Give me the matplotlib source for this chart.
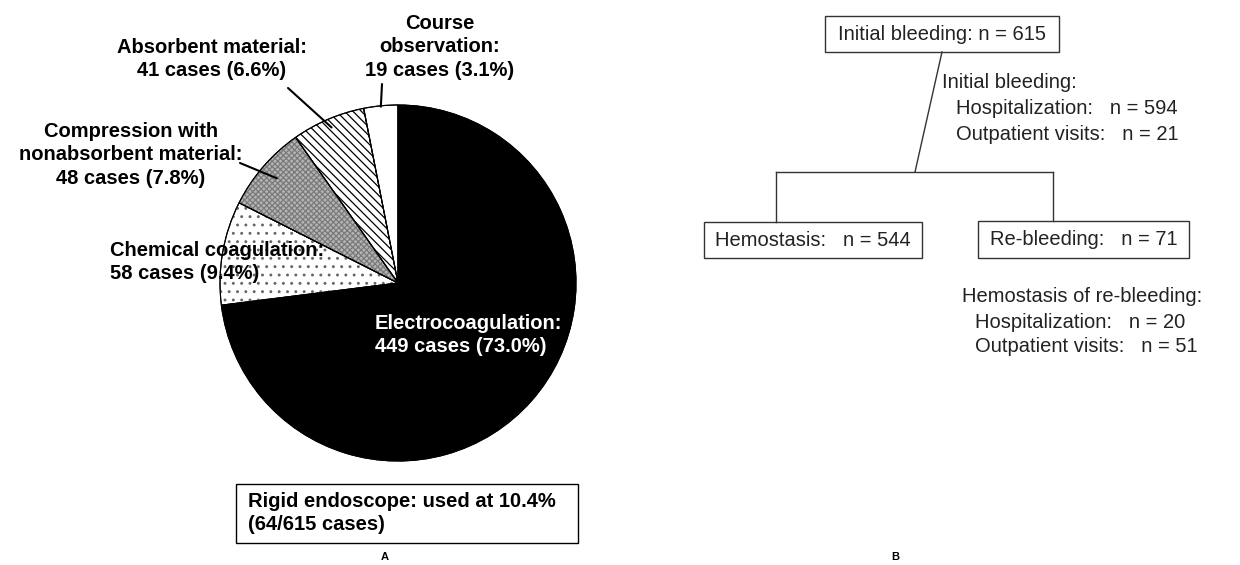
import matplotlib.pyplot as plt
import numpy as np
from matplotlib.patches import Rectangle, Wedge

plt.rcParams['font.family'] = ['Liberation Sans', 'DejaVu Sans']
plt.rcParams['hatch.linewidth'] = 0.9

# pie data (panel A)
methods = ['Electrocoagulation', 'Chemical coagulation',
           'Compression with\nnonabsorbent material', 'Absorbent material',
           'Course\nobservation']
cases = [449, 58, 48, 41, 19]
percents = [73.0, 9.4, 7.8, 6.6, 3.1]
faces = ['black', 'white', '#b4b4b4', 'white', 'white']
hatches = [None, '..', 'xxxxxx', '\\\\\\\\', None]
hatch_cols = [None, '#666666', '#7a7a7a', 'black', None]

# flowchart data (panel B)
n_initial = 615
n_hemostasis = 544
n_rebleeding = 71
initial_split = [('Hospitalization', 594), ('Outpatient visits', 21)]
rebleed_split = [('Hospitalization', 20), ('Outpatient visits', 51)]
rigid_used, rigid_total = 64, 615

H = 565
def Y(py):
    return H - py

fig = plt.figure(figsize=(12.4, 5.65), dpi=100)
ax = fig.add_axes([0, 0, 1, 1])

cx, cy, r = 398, Y(283), 178
wedges, _ = ax.pie(cases, startangle=90, counterclock=False, center=(cx, cy),
                   radius=r, colors=faces, frame=True,
                   wedgeprops=dict(edgecolor='black', linewidth=0.8))
# hatch overlays so the hatch can have its own colour
for w, h, hc in zip(wedges, hatches, hatch_cols):
    if h:
        ov = Wedge((cx, cy), r, w.theta1, w.theta2, facecolor='none',
                   edgecolor=hc, lw=0, hatch=h, zorder=w.get_zorder() + 0.1)
        ax.add_patch(ov)
for w in wedges:
    ax.add_patch(Wedge((cx, cy), r, w.theta1, w.theta2, facecolor='none',
                       edgecolor='black', lw=0.8, zorder=w.get_zorder() + 0.2))

ax.set_xlim(0, 1240)
ax.set_ylim(0, H)
ax.set_aspect('equal')
ax.axis('off')

def mid_point(w, frac):
    a = np.deg2rad((w.theta1 + w.theta2) / 2)
    return cx + frac * r * np.cos(a), cy + frac * r * np.sin(a)

fs = 14.5
ls = 1.32
lab = lambda i: f'{methods[i]}:\n{cases[i]} cases ({percents[i]:.1f}%)'

ax.text(375, Y(335), lab(0), color='white', fontsize=fs, fontweight='bold',
        ha='left', va='center', linespacing=ls, zorder=5)
ax.text(110, Y(262), lab(1), color='black', fontsize=fs, fontweight='bold',
        ha='left', va='center', linespacing=ls, zorder=5)
ax.text(131, Y(155), lab(2), fontsize=fs, fontweight='bold',
        ha='center', va='center', linespacing=ls)
ax.text(212, Y(59), lab(3), fontsize=fs, fontweight='bold',
        ha='center', va='center', linespacing=ls)
ax.text(440, Y(47), lab(4), fontsize=fs, fontweight='bold',
        ha='center', va='center', linespacing=ls)

# leader lines
for i, start, frac in [(2, (240, Y(163)), 0.9), (3, (288, Y(88)), 0.95),
                       (4, (382, Y(84)), 0.995)]:
    ax.annotate('', xy=mid_point(wedges[i], frac), xytext=start,
                arrowprops=dict(arrowstyle='-', color='black', lw=1.5,
                                shrinkA=0, shrinkB=0), zorder=6)

ax.add_patch(Rectangle((236, Y(543)), 342, 59, fill=False, ec='black', lw=1))
ax.text(248, Y(513), f'Rigid endoscope: used at {100 * rigid_used / rigid_total:.1f}%\n'
        f'({rigid_used}/{rigid_total} cases)', fontsize=fs, fontweight='bold',
        ha='left', va='center', linespacing=ls)
ax.text(385, Y(557), 'A', fontsize=8, fontweight='bold', ha='center', va='center')
ax.text(895, Y(557), 'B', fontsize=8, fontweight='bold', ha='center', va='center')

# panel B flowchart
lw = 1.0
def box(x0, y0, x1, y1, text):
    ax.add_patch(Rectangle((x0, Y(y1)), x1 - x0, y1 - y0, fill=False,
                           ec='#333333', lw=lw))
    ax.text((x0 + x1) / 2, Y((y0 + y1) / 2), text, fontsize=fs,
            ha='center', va='center', color='#222222')

box(825, 16, 1059, 52, f'Initial bleeding: n = {n_initial}')
box(704, 222, 922, 258, f'Hemostasis:   n = {n_hemostasis}')
box(978, 221, 1189, 258, f'Re-bleeding:   n = {n_rebleeding}')

ax.plot([942, 915], [Y(52), Y(172)], color='#333333', lw=lw)
ax.plot([776, 1053], [Y(172), Y(172)], color='#333333', lw=lw)
ax.plot([776, 776], [Y(172), Y(222)], color='#333333', lw=lw)
ax.plot([1053, 1053], [Y(172), Y(221)], color='#333333', lw=lw)

ax.text(942, Y(83), 'Initial bleeding:', fontsize=fs, ha='left', va='center',
        color='#222222')
for k, (name, n) in enumerate(initial_split):
    ax.text(956, Y(108 + 26 * k), f'{name}:   n = {n}', fontsize=fs,
            ha='left', va='center', color='#222222')

ax.text(962, Y(296), 'Hemostasis of re-bleeding:', fontsize=fs, ha='left',
        va='center', color='#222222')
for k, (name, n) in enumerate(rebleed_split):
    ax.text(975, Y(322 + 25 * k), f'{name}:   n = {n}', fontsize=fs,
            ha='left', va='center', color='#222222')

fig.savefig('out.png', dpi=100)
